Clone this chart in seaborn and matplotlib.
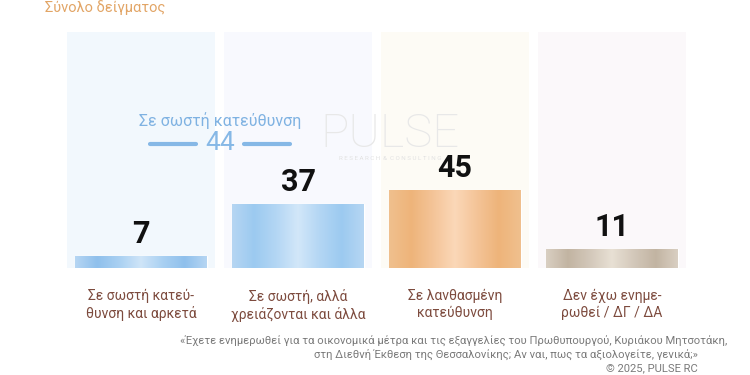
import numpy as np
import pandas as pd
import matplotlib
matplotlib.use("Agg")
import matplotlib.pyplot as plt
import seaborn as sns
from matplotlib.colors import LinearSegmentedColormap

# ---- data ----
categories = ["Σε σωστή κατεύ-\nθυνση και αρκετά",
              "Σε σωστή, αλλά\nχρειάζονται και άλλα",
              "Σε λανθασμένη\nκατεύθυνση",
              "Δεν έχω ενημε-\nρωθεί / ΔΓ / ΔΑ"]
values = [7, 37, 45, 11]
combined_label = "Σε σωστή κατεύθυνση"
combined_value = 44
title = "Σύνολο δείγματος"
footer_lines = ["«Έχετε ενημερωθεί για τα οικονομικά μέτρα και τις εξαγγελίες του Πρωθυπουργού, Κυριάκου Μητσοτάκη,",
                "στη Διεθνή Έκθεση της Θεσσαλονίκης; Αν ναι, πως τα αξιολογείτε, γενικά;»",
                "© 2025, PULSE RC"]

# ---- styling ----
panel_colors = ["#f2f8fd", "#f8f9fe", "#fdfbf5", "#fbf8fa"]
bar_grads = [
    ["#b6d6f3", "#8fc0ec", "#a9d0f2", "#cfe5f8", "#a9d0f2", "#8fc0ec", "#b6d6f3"],
    ["#b6d6f3", "#9ccaf0", "#b3d6f4", "#d2e7f9", "#b3d6f4", "#9ccaf0", "#b6d6f3"],
    ["#f0c08e", "#eeb47a", "#f4c498", "#fbd8b8", "#f4c498", "#eeb47a", "#f0c08e"],
    ["#d9cfc2", "#c2b4a2", "#d3c8ba", "#e8e0d4", "#d3c8ba", "#c2b4a2", "#d9cfc2"],
]

sns.set_theme(style="white")
plt.rcParams["font.family"] = ["Roboto", "DejaVu Sans"]

df = pd.DataFrame({"cat": categories, "val": values})

fig = plt.figure(figsize=(7.5, 3.75), dpi=100)
ax = fig.add_axes([62.5 / 750, (375 - 268) / 375, 628 / 750, 236 / 375])

sns.barplot(data=df, x="cat", y="val", ax=ax, width=132 / 157,
            color="#a9d0f2", saturation=1, zorder=2)
bars = list(ax.containers[0].patches)

ax.set_xlim(-0.5, 3.5)
ax.set_ylim(0, 136)

# background panels
for i, c in enumerate(panel_colors):
    ax.axvspan(i - 0.47, i + 0.47, ymin=0, ymax=1, color=c, zorder=0, lw=0)

# gradient fill for each bar
for patch, stops in zip(bars, bar_grads):
    x0, y0 = patch.get_x(), patch.get_y()
    w, h = patch.get_width(), patch.get_height()
    cmap = LinearSegmentedColormap.from_list("g", stops)
    grad = np.linspace(0, 1, 256).reshape(1, -1)
    im = ax.imshow(grad, cmap=cmap, aspect="auto",
                   extent=[x0, x0 + w, y0, y0 + h], zorder=3)
    im.set_clip_path(patch)
    patch.set_facecolor("none")
ax.set_xlim(-0.5, 3.5)
ax.set_ylim(0, 136)

# value labels
for i, v in enumerate(values):
    ax.annotate(str(v), (i, v), xytext=(0, 9.5), textcoords="offset points",
                ha="center", va="baseline", fontsize=22, fontweight="bold",
                color="#111111", zorder=5)

# category labels
ax.set_xticks(range(len(categories)))
ax.set_xticklabels(categories, fontsize=10, color="#7d4b3e", linespacing=1.25)
ax.tick_params(axis="x", length=0, pad=15)
ax.set_yticks([])
ax.set_xlabel("")
ax.set_ylabel("")
for s in ax.spines.values():
    s.set_visible(False)

# watermark
fig.text(390 / 750, 1 - 134 / 375, "PULSE", fontsize=34, color="#e8e8e8",
         ha="center", va="center", fontweight="light", zorder=1)
fig.text(390 / 750, 1 - 158 / 375, "R E S E A R C H  &  C O N S U L T I N G", fontsize=4.5,
         color="#e2e2e2", ha="center", va="center")

# combined annotation
blue = "#86b8e6"
fig.text(220 / 750, 1 - 121 / 375, combined_label, fontsize=11.5, color="#7fb2e2",
         ha="center", va="center")
fig.text(220 / 750, 1 - 143 / 375, str(combined_value), fontsize=19, color=blue,
         ha="center", va="center")
fig.add_artist(plt.Line2D([150 / 750, 196 / 750], [1 - 144 / 375] * 2, color=blue, lw=3))
fig.add_artist(plt.Line2D([244 / 750, 290 / 750], [1 - 144 / 375] * 2, color=blue, lw=3))

# title
fig.text(45 / 750, 1 - 8 / 375, title, fontsize=10.5, color="#e2a566", ha="left", va="center")

# footer
fcol = "#7a7a7a"
fig.text(727 / 750, 1 - 341 / 375, footer_lines[0], fontsize=8.1, color=fcol,
         ha="right", va="center")
fig.text(698 / 750, 1 - 354.5 / 375, footer_lines[1], fontsize=8.1, color=fcol,
         ha="right", va="center")
fig.text(698 / 750, 1 - 368 / 375, footer_lines[2], fontsize=8.1, color=fcol,
         ha="right", va="center")

fig.savefig("out.png", dpi=100, facecolor="white")
